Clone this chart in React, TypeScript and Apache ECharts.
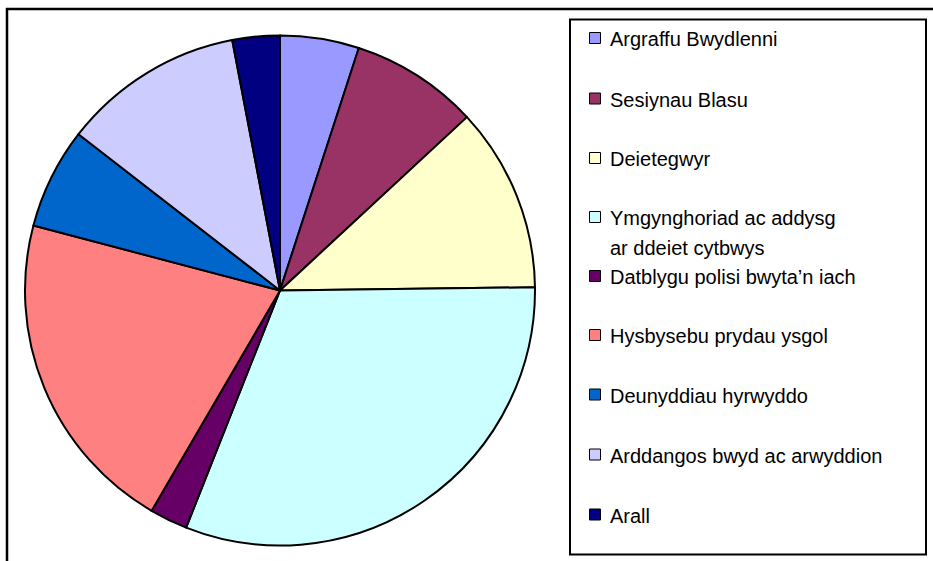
import React, { useEffect, useRef } from "react";
import * as echarts from "echarts";

const categories = [
  "Argraffu Bwydlenni",
  "Sesiynau Blasu",
  "Deietegwyr",
  "Ymgynghoriad ac addysg ar ddeiet cytbwys",
  "Datblygu polisi bwyta’n iach",
  "Hysbysebu prydau ysgol",
  "Deunyddiau hyrwyddo",
  "Arddangos bwyd ac arwyddion",
  "Arall",
];
const shares = [5.0, 8.1, 11.7, 31.2, 2.4, 20.7, 6.4, 11.5, 3.0];
const legendLines = [
  ["Argraffu Bwydlenni"],
  ["Sesiynau Blasu"],
  ["Deietegwyr"],
  ["Ymgynghoriad ac addysg", "ar ddeiet cytbwys"],
  ["Datblygu polisi bwyta’n iach"],
  ["Hysbysebu prydau ysgol"],
  ["Deunyddiau hyrwyddo"],
  ["Arddangos bwyd ac arwyddion"],
  ["Arall"],
];

const colors = [
  "#9999FF",
  "#993366",
  "#FFFFCC",
  "#CCFFFF",
  "#660066",
  "#FF8080",
  "#0066CC",
  "#CCCCFF",
  "#000080",
];

const legendCenters = [38.5, 99, 158.5, 217.5, 276.5, 335.5, 395, 455, 515];
const FONT = "'Liberation Sans', Arial, sans-serif";

export default function App() {
  const ref = useRef<HTMLDivElement>(null);
  useEffect(() => {
    if (!ref.current) return;
    const chart = echarts.init(ref.current, null, { renderer: "svg" });

    const legendGraphics: any[] = [];
    categories.forEach((name, i) => {
      const cy = legendCenters[i];
      legendGraphics.push({
        type: "rect",
        shape: { x: 589.5, y: cy - 6, width: 11, height: 11 },
        style: { fill: colors[i], stroke: "#000", lineWidth: 1 },
        silent: true,
      });
      legendLines[i].forEach((line, j) => {
        legendGraphics.push({
          type: "text",
          x: 610,
          y: cy + 0.5 + j * 30,
          style: {
            text: line,
            fill: "#000",
            font: `20px ${FONT}`,
            verticalAlign: "middle",
            align: "left",
          },
          silent: true,
        });
      });
    });

    chart.setOption({
      animation: false,
      backgroundColor: "#fff",
      series: [
        {
          type: "pie",
          center: [280, 290.5],
          radius: 255,
          startAngle: 90,
          clockwise: true,
          label: { show: false },
          labelLine: { show: false },
          emphasis: { disabled: true },
          silent: true,
          itemStyle: { borderColor: "#000", borderWidth: 2 },
          data: categories.map((name, i) => ({
            name,
            value: shares[i],
            itemStyle: { color: colors[i] },
          })),
        },
      ],
      graphic: [
        {
          type: "rect",
          shape: { x: 7, y: 9, width: 1000, height: 1000 },
          style: { fill: "none", stroke: "#000", lineWidth: 2.5 },
          silent: true,
        },
        {
          type: "rect",
          shape: { x: 570, y: 19.5, width: 356, height: 535 },
          style: { fill: "#fff", stroke: "#000", lineWidth: 2 },
          silent: true,
        },
        ...legendGraphics,
      ],
    });
    return () => chart.dispose();
  }, []);
  return (
    <div
      ref={ref}
      style={{ position: "fixed", left: 0, top: 0, width: 933, height: 561 }}
    />
  );
}
